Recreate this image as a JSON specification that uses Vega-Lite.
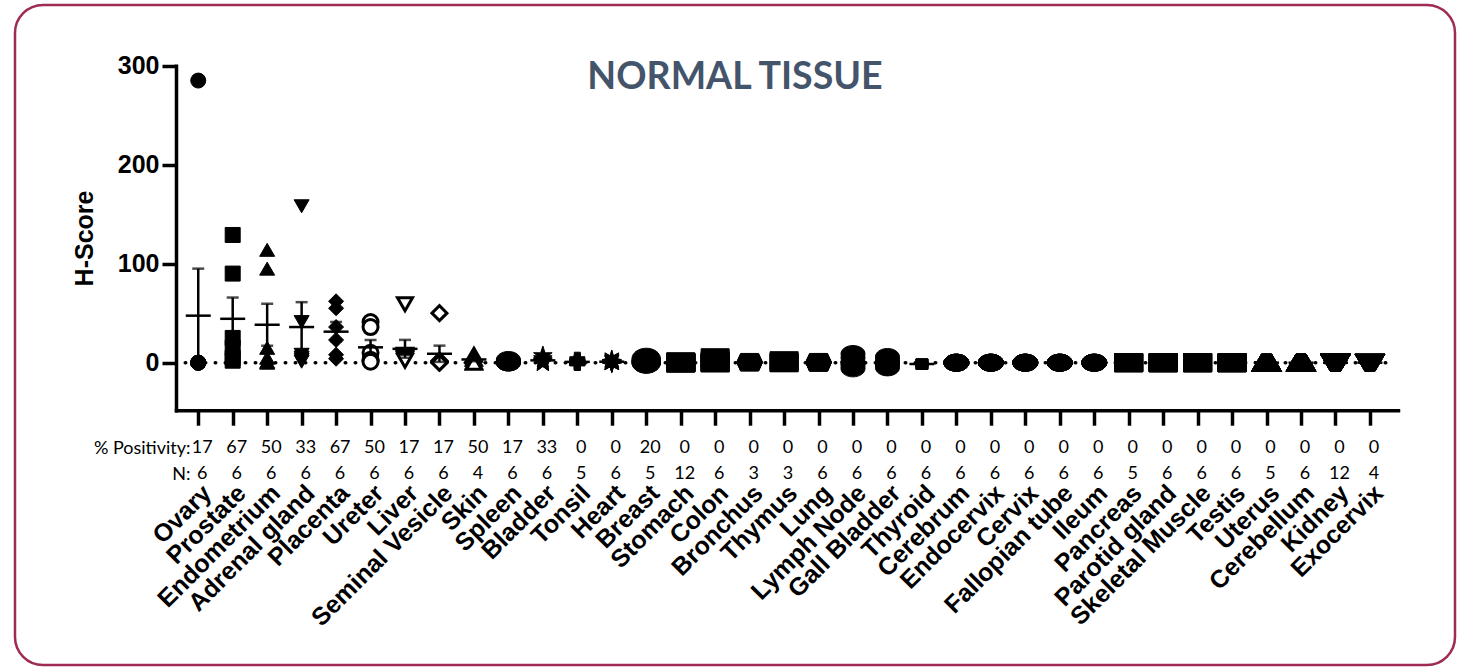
{
  "$schema": "https://vega.github.io/schema/vega-lite/v6.json",
  "width": 1440,
  "height": 660,
  "autosize": "none",
  "padding": {"left": 15, "top": 5, "right": 11, "bottom": 5},
  "background": "white",
  "view": {"stroke": "#9e2a55", "strokeWidth": 2.5, "cornerRadius": 28, "fill": "white"},
  "title": {"text": "NORMAL TISSUE", "font": "Lato", "fontSize": 37.5, "fontWeight": "bold", "color": "#44546a", "anchor": "middle", "frame": "group", "offset": -91},
  "datasets": {
    "baseline": [{"ref": 0}],
    "summary": [
      {"tissue": "Ovary", "positivity": 17, "n": 6},
      {"tissue": "Prostate", "positivity": 67, "n": 6},
      {"tissue": "Endometrium", "positivity": 50, "n": 6},
      {"tissue": "Adrenal gland", "positivity": 33, "n": 6},
      {"tissue": "Placenta", "positivity": 67, "n": 6},
      {"tissue": "Ureter", "positivity": 50, "n": 6},
      {"tissue": "Liver", "positivity": 17, "n": 6},
      {"tissue": "Seminal Vesicle", "positivity": 17, "n": 6},
      {"tissue": "Skin", "positivity": 50, "n": 4},
      {"tissue": "Spleen", "positivity": 17, "n": 6},
      {"tissue": "Bladder", "positivity": 33, "n": 6},
      {"tissue": "Tonsil", "positivity": 0, "n": 5},
      {"tissue": "Heart", "positivity": 0, "n": 6},
      {"tissue": "Breast", "positivity": 20, "n": 5},
      {"tissue": "Stomach", "positivity": 0, "n": 12},
      {"tissue": "Colon", "positivity": 0, "n": 6},
      {"tissue": "Bronchus", "positivity": 0, "n": 3},
      {"tissue": "Thymus", "positivity": 0, "n": 3},
      {"tissue": "Lung", "positivity": 0, "n": 6},
      {"tissue": "Lymph Node", "positivity": 0, "n": 6},
      {"tissue": "Gall Bladder", "positivity": 0, "n": 6},
      {"tissue": "Thyroid", "positivity": 0, "n": 6},
      {"tissue": "Cerebrum", "positivity": 0, "n": 6},
      {"tissue": "Endocervix", "positivity": 0, "n": 6},
      {"tissue": "Cervix", "positivity": 0, "n": 6},
      {"tissue": "Fallopian tube", "positivity": 0, "n": 6},
      {"tissue": "Ileum", "positivity": 0, "n": 6},
      {"tissue": "Pancreas", "positivity": 0, "n": 5},
      {"tissue": "Parotid gland", "positivity": 0, "n": 6},
      {"tissue": "Skeletal Muscle", "positivity": 0, "n": 6},
      {"tissue": "Testis", "positivity": 0, "n": 6},
      {"tissue": "Uterus", "positivity": 0, "n": 5},
      {"tissue": "Cerebellum", "positivity": 0, "n": 6},
      {"tissue": "Kidney", "positivity": 0, "n": 12},
      {"tissue": "Exocervix", "positivity": 0, "n": 4}
    ],
    "scores": [
      {"tissue": "Ovary", "score": 285}, {"tissue": "Ovary", "score": 0}, {"tissue": "Ovary", "score": 0}, {"tissue": "Ovary", "score": 0}, {"tissue": "Ovary", "score": 0}, {"tissue": "Ovary", "score": 0},
      {"tissue": "Prostate", "score": 129}, {"tissue": "Prostate", "score": 90}, {"tissue": "Prostate", "score": 25}, {"tissue": "Prostate", "score": 15}, {"tissue": "Prostate", "score": 5}, {"tissue": "Prostate", "score": 2},
      {"tissue": "Endometrium", "score": 114}, {"tissue": "Endometrium", "score": 95}, {"tissue": "Endometrium", "score": 15}, {"tissue": "Endometrium", "score": 5}, {"tissue": "Endometrium", "score": 1}, {"tissue": "Endometrium", "score": 0},
      {"tissue": "Adrenal gland", "score": 158}, {"tissue": "Adrenal gland", "score": 41}, {"tissue": "Adrenal gland", "score": 8}, {"tissue": "Adrenal gland", "score": 5}, {"tissue": "Adrenal gland", "score": 3}, {"tissue": "Adrenal gland", "score": 1},
      {"tissue": "Placenta", "score": 62}, {"tissue": "Placenta", "score": 55}, {"tissue": "Placenta", "score": 36}, {"tissue": "Placenta", "score": 23}, {"tissue": "Placenta", "score": 8}, {"tissue": "Placenta", "score": 4},
      {"tissue": "Ureter", "score": 41}, {"tissue": "Ureter", "score": 36}, {"tissue": "Ureter", "score": 10}, {"tissue": "Ureter", "score": 3}, {"tissue": "Ureter", "score": 2}, {"tissue": "Ureter", "score": 1},
      {"tissue": "Liver", "score": 59}, {"tissue": "Liver", "score": 8}, {"tissue": "Liver", "score": 6}, {"tissue": "Liver", "score": 5}, {"tissue": "Liver", "score": 4}, {"tissue": "Liver", "score": 2},
      {"tissue": "Seminal Vesicle", "score": 50}, {"tissue": "Seminal Vesicle", "score": 2}, {"tissue": "Seminal Vesicle", "score": 1}, {"tissue": "Seminal Vesicle", "score": 1}, {"tissue": "Seminal Vesicle", "score": 0}, {"tissue": "Seminal Vesicle", "score": 0},
      {"tissue": "Skin", "score": 8}, {"tissue": "Skin", "score": 4}, {"tissue": "Skin", "score": 1}, {"tissue": "Skin", "score": 0},
      {"tissue": "Spleen", "score": 3}, {"tissue": "Spleen", "score": 2}, {"tissue": "Spleen", "score": 1}, {"tissue": "Spleen", "score": 0}, {"tissue": "Spleen", "score": 0}, {"tissue": "Spleen", "score": 0},
      {"tissue": "Bladder", "score": 7}, {"tissue": "Bladder", "score": 4}, {"tissue": "Bladder", "score": 2}, {"tissue": "Bladder", "score": 1}, {"tissue": "Bladder", "score": 0}, {"tissue": "Bladder", "score": 0},
      {"tissue": "Tonsil", "score": 3}, {"tissue": "Tonsil", "score": 1}, {"tissue": "Tonsil", "score": 0}, {"tissue": "Tonsil", "score": 0}, {"tissue": "Tonsil", "score": 0},
      {"tissue": "Heart", "score": 3}, {"tissue": "Heart", "score": 2}, {"tissue": "Heart", "score": 1}, {"tissue": "Heart", "score": 0}, {"tissue": "Heart", "score": 0}, {"tissue": "Heart", "score": 0},
      {"tissue": "Breast", "score": 4}, {"tissue": "Breast", "score": 2}, {"tissue": "Breast", "score": 1}, {"tissue": "Breast", "score": 0}, {"tissue": "Breast", "score": 0},
      {"tissue": "Stomach", "score": 1}, {"tissue": "Stomach", "score": 0}, {"tissue": "Stomach", "score": 0}, {"tissue": "Stomach", "score": 0}, {"tissue": "Stomach", "score": 0}, {"tissue": "Stomach", "score": 0}, {"tissue": "Stomach", "score": 0}, {"tissue": "Stomach", "score": 0}, {"tissue": "Stomach", "score": 0}, {"tissue": "Stomach", "score": 0}, {"tissue": "Stomach", "score": 0}, {"tissue": "Stomach", "score": 0},
      {"tissue": "Colon", "score": 5}, {"tissue": "Colon", "score": 2}, {"tissue": "Colon", "score": 0}, {"tissue": "Colon", "score": 0}, {"tissue": "Colon", "score": 0}, {"tissue": "Colon", "score": 0},
      {"tissue": "Bronchus", "score": 1}, {"tissue": "Bronchus", "score": 0}, {"tissue": "Bronchus", "score": 0},
      {"tissue": "Thymus", "score": 2}, {"tissue": "Thymus", "score": 0}, {"tissue": "Thymus", "score": 0},
      {"tissue": "Lung", "score": 1}, {"tissue": "Lung", "score": 0}, {"tissue": "Lung", "score": 0}, {"tissue": "Lung", "score": 0}, {"tissue": "Lung", "score": 0}, {"tissue": "Lung", "score": 0},
      {"tissue": "Lymph Node", "score": 9}, {"tissue": "Lymph Node", "score": 5}, {"tissue": "Lymph Node", "score": 0}, {"tissue": "Lymph Node", "score": 0}, {"tissue": "Lymph Node", "score": -3}, {"tissue": "Lymph Node", "score": -6},
      {"tissue": "Gall Bladder", "score": 6}, {"tissue": "Gall Bladder", "score": 3}, {"tissue": "Gall Bladder", "score": 0}, {"tissue": "Gall Bladder", "score": 0}, {"tissue": "Gall Bladder", "score": -2}, {"tissue": "Gall Bladder", "score": -5},
      {"tissue": "Thyroid", "score": 0}, {"tissue": "Thyroid", "score": 0}, {"tissue": "Thyroid", "score": 0}, {"tissue": "Thyroid", "score": -2}, {"tissue": "Thyroid", "score": -3}, {"tissue": "Thyroid", "score": -3},
      {"tissue": "Cerebrum", "score": 0}, {"tissue": "Cerebrum", "score": 0}, {"tissue": "Cerebrum", "score": 0}, {"tissue": "Cerebrum", "score": 0}, {"tissue": "Cerebrum", "score": 0}, {"tissue": "Cerebrum", "score": 0},
      {"tissue": "Endocervix", "score": 0}, {"tissue": "Endocervix", "score": 0}, {"tissue": "Endocervix", "score": 0}, {"tissue": "Endocervix", "score": 0}, {"tissue": "Endocervix", "score": 0}, {"tissue": "Endocervix", "score": 0},
      {"tissue": "Cervix", "score": 0}, {"tissue": "Cervix", "score": 0}, {"tissue": "Cervix", "score": 0}, {"tissue": "Cervix", "score": 0}, {"tissue": "Cervix", "score": 0}, {"tissue": "Cervix", "score": 0},
      {"tissue": "Fallopian tube", "score": 0}, {"tissue": "Fallopian tube", "score": 0}, {"tissue": "Fallopian tube", "score": 0}, {"tissue": "Fallopian tube", "score": 0}, {"tissue": "Fallopian tube", "score": 0}, {"tissue": "Fallopian tube", "score": 0},
      {"tissue": "Ileum", "score": 0}, {"tissue": "Ileum", "score": 0}, {"tissue": "Ileum", "score": 0}, {"tissue": "Ileum", "score": 0}, {"tissue": "Ileum", "score": 0}, {"tissue": "Ileum", "score": 0},
      {"tissue": "Pancreas", "score": 0}, {"tissue": "Pancreas", "score": 0}, {"tissue": "Pancreas", "score": 0}, {"tissue": "Pancreas", "score": 0}, {"tissue": "Pancreas", "score": 0},
      {"tissue": "Parotid gland", "score": 0}, {"tissue": "Parotid gland", "score": 0}, {"tissue": "Parotid gland", "score": 0}, {"tissue": "Parotid gland", "score": 0}, {"tissue": "Parotid gland", "score": 0}, {"tissue": "Parotid gland", "score": 0},
      {"tissue": "Skeletal Muscle", "score": 0}, {"tissue": "Skeletal Muscle", "score": 0}, {"tissue": "Skeletal Muscle", "score": 0}, {"tissue": "Skeletal Muscle", "score": 0}, {"tissue": "Skeletal Muscle", "score": 0}, {"tissue": "Skeletal Muscle", "score": 0},
      {"tissue": "Testis", "score": 0}, {"tissue": "Testis", "score": 0}, {"tissue": "Testis", "score": 0}, {"tissue": "Testis", "score": 0}, {"tissue": "Testis", "score": 0}, {"tissue": "Testis", "score": 0},
      {"tissue": "Uterus", "score": 0}, {"tissue": "Uterus", "score": 0}, {"tissue": "Uterus", "score": 0}, {"tissue": "Uterus", "score": 0}, {"tissue": "Uterus", "score": 0},
      {"tissue": "Cerebellum", "score": 0}, {"tissue": "Cerebellum", "score": 0}, {"tissue": "Cerebellum", "score": 0}, {"tissue": "Cerebellum", "score": 0}, {"tissue": "Cerebellum", "score": 0}, {"tissue": "Cerebellum", "score": 0},
      {"tissue": "Kidney", "score": 0}, {"tissue": "Kidney", "score": 0}, {"tissue": "Kidney", "score": 0}, {"tissue": "Kidney", "score": 0}, {"tissue": "Kidney", "score": 0}, {"tissue": "Kidney", "score": 0}, {"tissue": "Kidney", "score": 0}, {"tissue": "Kidney", "score": 0}, {"tissue": "Kidney", "score": 0}, {"tissue": "Kidney", "score": 0}, {"tissue": "Kidney", "score": 0}, {"tissue": "Kidney", "score": 0},
      {"tissue": "Exocervix", "score": 0}, {"tissue": "Exocervix", "score": 0}, {"tissue": "Exocervix", "score": 0}, {"tissue": "Exocervix", "score": 0}
    ]
  },
  "layer": [
    {
      "data": {"name": "scores"},
      "encoding": {
        "x": {
          "field": "tissue", "type": "nominal", "title": null,
          "scale": {"type": "point", "domain": ["Ovary","Prostate","Endometrium","Adrenal gland","Placenta","Ureter","Liver","Seminal Vesicle","Skin","Spleen","Bladder","Tonsil","Heart","Breast","Stomach","Colon","Bronchus","Thymus","Lung","Lymph Node","Gall Bladder","Thyroid","Cerebrum","Endocervix","Cervix","Fallopian tube","Ileum","Pancreas","Parotid gland","Skeletal Muscle","Testis","Uterus","Cerebellum","Kidney","Exocervix"], "range": [161, 1383], "padding": 0.73, "align": 0.442},
          "axis": {"orient": "bottom", "offset": -254.8, "title": null, "grid": false, "domainColor": "black", "domainWidth": 3.5, "domainCap": "square", "tickColor": "black", "tickWidth": 3.5, "tickSize": 15, "labelFont": "Liberation Sans", "labelFontWeight": "bold", "labelFontSize": 25, "labelColor": "black", "labelAngle": -45, "labelAlign": "right", "labelBaseline": "top", "labelPadding": 55, "labelOverlap": false, "labelLimit": 400, "labelBound": false, "labelFlush": false}
        },
        "y": {
          "field": "score", "type": "quantitative", "title": "H-Score",
          "scale": {"domain": [-48, 300], "range": [405.2, 60.7], "nice": false, "zero": false},
          "axis": {"orient": "left", "offset": -161, "title": "H-Score", "values": [0, 100, 200, 300], "grid": false, "domainColor": "black", "domainWidth": 3.5, "domainCap": "square", "tickColor": "black", "tickWidth": 3.5, "tickSize": 14, "labelFont": "Liberation Sans", "labelFontWeight": "bold", "labelFontSize": 25, "labelColor": "black", "labelPadding": 3, "titleFont": "Liberation Sans", "titleFontWeight": "bold", "titleFontSize": 25, "titleColor": "black", "titlePadding": 20}
        }
      },
      "layer": [
        {
          "data": {"name": "baseline"},
          "mark": {"type": "rule", "color": "black", "strokeWidth": 3.5, "strokeDash": [0.5, 9.5], "strokeCap": "round", "x": {"expr": "scale('x', 'Ovary') - 13"}, "x2": {"expr": "scale('x', 'Exocervix') + 25"}},
          "encoding": {
            "x": null,
            "y": {
              "field": "ref", "type": "quantitative", "title": "H-Score",
              "scale": {"domain": [-48, 300], "range": [405.2, 60.7], "nice": false, "zero": false},
              "axis": {"orient": "left", "offset": -161, "title": "H-Score", "values": [0, 100, 200, 300], "grid": false, "domainColor": "black", "domainWidth": 3.5, "domainCap": "square", "tickColor": "black", "tickWidth": 3.5, "tickSize": 14, "labelFont": "Liberation Sans", "labelFontWeight": "bold", "labelFontSize": 25, "labelColor": "black", "labelPadding": 3, "titleFont": "Liberation Sans", "titleFontWeight": "bold", "titleFontSize": 25, "titleColor": "black", "titlePadding": 20}
            }
          }
        },
        {
          "mark": {"type": "point", "filled": true, "size": 225, "opacity": 1, "stroke": "black"},
          "encoding": {
            "shape": {
              "field": "tissue", "type": "nominal", "legend": null,
              "scale": {
                "domain": ["Ovary","Prostate","Endometrium","Adrenal gland","Placenta","Ureter","Liver","Seminal Vesicle","Skin","Spleen","Bladder","Tonsil","Heart","Breast","Stomach","Colon","Bronchus","Thymus","Lung","Lymph Node","Gall Bladder","Thyroid","Cerebrum","Endocervix","Cervix","Fallopian tube","Ileum","Pancreas","Parotid gland","Skeletal Muscle","Testis","Uterus","Cerebellum","Kidney","Exocervix"],
                "range": [
                  "circle", "square", "triangle-up", "triangle-down", "diamond",
                  "circle", "triangle-down", "diamond", "triangle-up",
                  "M-1.6,0A1.6,1.1,0,1,0,1.6,0A1.6,1.1,0,1,0,-1.6,0Z",
                  "M0,-1.3L0.29,-0.4L1.24,-0.4L0.47,0.15L0.76,1.05L0,0.5L-0.76,1.05L-0.47,0.15L-1.24,-0.4L-0.29,-0.4Z",
                  "cross",
                  "M0,-1.3L0.22,-0.54L0.92,-0.92L0.54,-0.22L1.3,0L0.54,0.22L0.92,0.92L0.22,0.54L0,1.3L-0.22,0.54L-0.92,0.92L-0.54,0.22L-1.3,0L-0.54,-0.22L-0.92,-0.92L-0.22,-0.54Z",
                  "M-1.9,0A1.9,1.4,0,1,0,1.9,0A1.9,1.4,0,1,0,-1.9,0Z",
                  "M-1.87,-1.2H1.87V1.2H-1.87Z",
                  "M-1.87,-1.2H1.87V1.2H-1.87Z",
                  "M-1.7,0L-1.2,-1.1L1.2,-1.1L1.7,0L1.2,1.1L-1.2,1.1Z",
                  "M-1.87,-1.2H1.87V1.2H-1.87Z",
                  "M-1.7,0L-1.2,-1.1L1.2,-1.1L1.7,0L1.2,1.1L-1.2,1.1Z",
                  "M-1.6,0A1.6,1.1,0,1,0,1.6,0A1.6,1.1,0,1,0,-1.6,0Z",
                  "M-1.6,0A1.6,1.1,0,1,0,1.6,0A1.6,1.1,0,1,0,-1.6,0Z",
                  "M-0.8,-0.5H0.8V0.5H-0.8Z",
                  "M-1.67,0A1.67,1.13,0,1,0,1.67,0A1.67,1.13,0,1,0,-1.67,0Z",
                  "M-1.67,0A1.67,1.13,0,1,0,1.67,0A1.67,1.13,0,1,0,-1.67,0Z",
                  "M-1.67,0A1.67,1.13,0,1,0,1.67,0A1.67,1.13,0,1,0,-1.67,0Z",
                  "M-1.67,0A1.67,1.13,0,1,0,1.67,0A1.67,1.13,0,1,0,-1.67,0Z",
                  "M-1.67,0A1.67,1.13,0,1,0,1.67,0A1.67,1.13,0,1,0,-1.67,0Z",
                  "M-1.87,-1.2H1.87V1.2H-1.87Z",
                  "M-1.87,-1.2H1.87V1.2H-1.87Z",
                  "M-1.87,-1.2H1.87V1.2H-1.87Z",
                  "M-1.87,-1.2H1.87V1.2H-1.87Z",
                  "M-2,1.15L-0.67,-1.15L0.67,-1.15L2,1.15Z",
                  "M-2,1.15L-0.67,-1.15L0.67,-1.15L2,1.15Z",
                  "M-2,-1.15L2,-1.15L0.67,1.15L-0.67,1.15Z",
                  "M-2,-1.15L2,-1.15L0.67,1.15L-0.67,1.15Z"
                ]
              }
            },
            "fill": {"condition": {"test": "indexof(['Ureter','Liver','Seminal Vesicle','Skin'], datum.tissue) >= 0", "value": "white"}, "value": "black"},
            "strokeWidth": {"condition": {"test": "indexof(['Ureter','Liver','Seminal Vesicle','Skin'], datum.tissue) >= 0", "value": 3}, "value": 1}
          }
        },
        {
          "mark": {"type": "errorbar", "extent": "stderr", "color": "black", "thickness": 2.5, "ticks": {"size": 12, "color": "black", "thickness": 2.5}}
        },
        {
          "mark": {"type": "tick", "color": "black", "thickness": 2.5, "size": 25, "opacity": 1},
          "encoding": {
            "y": {
              "aggregate": "mean", "field": "score", "type": "quantitative", "title": "H-Score",
              "scale": {"domain": [-48, 300], "range": [405.2, 60.7], "nice": false, "zero": false},
              "axis": {"orient": "left", "offset": -161, "title": "H-Score", "values": [0, 100, 200, 300], "grid": false, "domainColor": "black", "domainWidth": 3.5, "domainCap": "square", "tickColor": "black", "tickWidth": 3.5, "tickSize": 14, "labelFont": "Liberation Sans", "labelFontWeight": "bold", "labelFontSize": 25, "labelColor": "black", "labelPadding": 3, "titleFont": "Liberation Sans", "titleFontWeight": "bold", "titleFontSize": 25, "titleColor": "black", "titlePadding": 20}
            }
          }
        }
      ]
    },
    {
      "data": {"name": "summary"},
      "transform": [{"fold": ["positivity", "n"], "as": ["row", "value"]}],
      "mark": {"type": "text", "font": "Lato", "fontSize": 18, "color": "black", "baseline": "middle", "align": "center", "dx": 4},
      "encoding": {
        "x": {
          "field": "tissue", "type": "nominal", "title": null,
          "scale": {"type": "point", "domain": ["Ovary","Prostate","Endometrium","Adrenal gland","Placenta","Ureter","Liver","Seminal Vesicle","Skin","Spleen","Bladder","Tonsil","Heart","Breast","Stomach","Colon","Bronchus","Thymus","Lung","Lymph Node","Gall Bladder","Thyroid","Cerebrum","Endocervix","Cervix","Fallopian tube","Ileum","Pancreas","Parotid gland","Skeletal Muscle","Testis","Uterus","Cerebellum","Kidney","Exocervix"], "range": [161, 1383], "padding": 0.73, "align": 0.442},
          "axis": {"orient": "bottom", "offset": -254.8, "title": null, "grid": false, "domainColor": "black", "domainWidth": 3.5, "domainCap": "square", "tickColor": "black", "tickWidth": 3.5, "tickSize": 15, "labelFont": "Liberation Sans", "labelFontWeight": "bold", "labelFontSize": 25, "labelColor": "black", "labelAngle": -45, "labelAlign": "right", "labelBaseline": "top", "labelPadding": 55, "labelOverlap": false, "labelLimit": 400, "labelBound": false, "labelFlush": false}
        },
        "y": {
          "field": "row", "type": "nominal", "title": null,
          "scale": {"type": "point", "domain": ["positivity", "n"], "range": [443, 469], "padding": 0},
          "axis": {"orient": "left", "offset": -177, "title": null, "domain": false, "ticks": false, "grid": false, "labelPadding": 2, "labelFont": "Lato", "labelFontSize": 18, "labelColor": "black", "labelExpr": "datum.value == 'positivity' ? '% Positivity:' : 'N:'"}
        },
        "text": {"field": "value", "type": "nominal"}
      }
    }
  ],
  "resolve": {"scale": {"y": "independent"}, "axis": {"y": "independent"}}
}
